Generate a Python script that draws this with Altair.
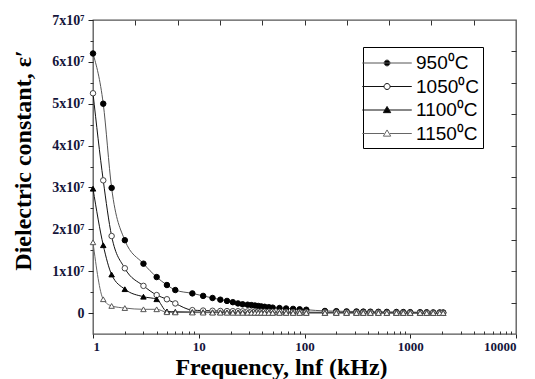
import altair as alt
import pandas as pd

# ---------------- data ----------------
freq_khz = [1, 1.25, 1.5, 2, 3, 4, 5, 6,
            8.7, 11, 13.5, 16, 18.5, 21, 23.5, 26, 29, 31.5, 34, 36.5, 39, 42, 46, 50,
            58, 67, 78, 90, 104,
            156, 200, 250, 310, 360, 420, 500, 600, 740, 860, 1000, 1240, 1430, 1650, 1900, 2050]

# dielectric constant in units of 1e7
eps_950 = [6.2, 5.0, 2.99, 1.74, 1.18, 0.86, 0.67, 0.55,
           0.47, 0.41, 0.36, 0.32, 0.29, 0.26, 0.23, 0.21, 0.2, 0.19, 0.18, 0.17, 0.16, 0.15, 0.14, 0.13,
           0.12, 0.11, 0.1, 0.09, 0.08,
           0.05, 0.045, 0.04, 0.038, 0.035, 0.033, 0.03, 0.028, 0.026, 0.024, 0.022, 0.02, 0.018, 0.016, 0.015, 0.014]
eps_1050 = [5.25, 3.17, 1.84, 1.07, 0.65, 0.43, 0.33, 0.23,
            0.07, 0.06, 0.055, 0.05, 0.047, 0.045, 0.043, 0.04, 0.038, 0.036, 0.035, 0.034, 0.033, 0.032, 0.031, 0.03,
            0.028, 0.026, 0.024, 0.022, 0.02,
            0.018, 0.016, 0.015, 0.014, 0.013, 0.012, 0.011, 0.01, 0.009, 0.008, 0.008, 0.007, 0.007, 0.006, 0.006, 0.005]
eps_1100 = [2.97, 1.62, 0.92, 0.57, 0.39, 0.33, 0.04, 0.03,
            0.025, 0.022, 0.02, 0.019, 0.018, 0.017, 0.016, 0.015, 0.014, 0.013, 0.013, 0.012, 0.012, 0.011, 0.011, 0.01,
            0.01, 0.009, 0.009, 0.008, 0.008,
            0.007, 0.007, 0.006, 0.006, 0.006, 0.005, 0.005, 0.005, 0.004, 0.004, 0.004, 0.004, 0.003, 0.003, 0.003, 0.003]
eps_1150 = [1.69, 0.33, 0.17, 0.12, 0.09, 0.09, 0.02, 0.015,
            0.012, 0.01, 0.009, 0.008, 0.008, 0.007, 0.007, 0.006, 0.006, 0.006, 0.005, 0.005, 0.005, 0.005, 0.004, 0.004,
            0.004, 0.004, 0.003, 0.003, 0.003,
            0.003, 0.003, 0.002, 0.002, 0.002, 0.002, 0.002, 0.002, 0.002, 0.002, 0.002, 0.002, 0.002, 0.002, 0.002, 0.002]

series_names = ["950\u2070C", "1050\u2070C", "1100\u2070C", "1150\u2070C"]
series_values = [eps_950, eps_1050, eps_1100, eps_1150]

x_major = [1, 10, 100, 1000, 10000]
x_minor = [m * d for d in [1, 10, 100, 1000] for m in range(2, 10)]
y_major = [i * 1e7 for i in range(0, 8)]
y_minor = [(i + 0.5) * 1e7 for i in range(0, 7)]
frame_ticks = list(range(1, 10))

rows = []
for name, vals in zip(series_names, series_values):
    for f, v in zip(freq_khz, vals):
        rows.append({"f": f, "eps": v * 1e7, "series": name})
df = pd.DataFrame(rows)
dummy = pd.DataFrame({"t": [0, 10], "f": [1, 10000], "eps": [-5e6, 7e7]})

# ---------------- styles ----------------
SERIF = "Liberation Serif"
LABEL_COLOR = "#14143a"
line_colors = ["#555555", "#111111", "#111111", "#666666"]
pt_shapes = ["circle", "circle", "triangle-up", "triangle-up"]
pt_fills = ["#000000", "#ffffff", "#000000", "#ffffff"]
pt_strokes = ["#000000", "#444444", "#000000", "#555555"]


def legend_path(marker, gap):
    """Line + marker legend glyph (unit coords), shifted right a little."""
    s = 0.7
    def x(v):
        return f"{v + s:.3f}"
    line = f"M{x(-2.15)},0H{x(2.15)}" if gap == 0 else f"M{x(-2.15)},0H{x(-gap)}M{x(gap)},0H{x(2.15)}"
    if marker == "circle":
        r = 0.26
        mk = f"M{x(r)},0A{r},{r},0,1,1,{x(-r)},0A{r},{r},0,1,1,{x(r)},0Z"
    else:
        mk = f"M{x(0)},-0.31L{x(0.32)},0.23L{x(-0.32)},0.23Z"
    return line + mk


leg_shapes = [legend_path("circle", 0), legend_path("circle", 0.26),
              legend_path("tri", 0), legend_path("tri", 0.24)]
leg_strokes = ["#555555", "#111111", "#111111", "#666666"]

xscale = alt.Scale(type="log", domain=[1, 10000], nice=False)
yscale = alt.Scale(domain=[-5e6, 7e7], nice=False, zero=False)

x_enc = alt.X("f:Q", scale=xscale, axis=alt.Axis(
    values=x_major, format="d", grid=False, domain=False,
    tickSize=4, tickColor="#222", labelPadding=2,
    labelFont=SERIF, labelFontWeight="bold", labelFontSize=13, labelColor=LABEL_COLOR,
    title="Frequency, lnf (kHz)", titleFont=SERIF, titleFontWeight="bold", titleFontSize=24,
    titleColor="#000", titleX=188, titleY=40, titleAlign="center", titleBaseline="alphabetic"))
y_enc = alt.Y("eps:Q", scale=yscale, axis=alt.Axis(
    values=y_major, grid=False, domain=False,
    labelExpr="datum.value == 0 ? '0' : format(datum.value / 1e7, 'd') + 'x10\u2077'",
    tickSize=5, tickColor="#222", labelPadding=4,
    labelFont=SERIF, labelFontWeight="bold", labelFontSize=14, labelColor=LABEL_COLOR,
    title="Dielectric constant, \u03b5\u2032", titleFont=SERIF, titleFontWeight="bold", titleFontSize=24,
    titleColor="#000", titleAngle=270, titleX=-63, titleY=140, titleAlign="center",
    titleBaseline="alphabetic"))

lines = alt.Chart(df).mark_line(interpolate="monotone", strokeWidth=1).encode(
    x=x_enc, y=y_enc,
    color=alt.Color("series:N", scale=alt.Scale(domain=series_names, range=line_colors), legend=None),
)
points = alt.Chart(df).mark_point(size=30, strokeWidth=1, opacity=1).encode(
    x=alt.X("f:Q", scale=xscale), y=alt.Y("eps:Q", scale=yscale),
    shape=alt.Shape("series:N", scale=alt.Scale(domain=series_names, range=pt_shapes), legend=None),
    fill=alt.Fill("series:N", scale=alt.Scale(domain=series_names, range=pt_fills), legend=None),
    stroke=alt.Stroke("series:N", scale=alt.Scale(domain=series_names, range=pt_strokes), legend=None),
)
legend_layer = alt.Chart(df).mark_point(opacity=0).encode(
    x=alt.X("f:Q", scale=xscale), y=alt.Y("eps:Q", scale=yscale),
    shape=alt.Shape("series:N", scale=alt.Scale(domain=series_names, range=leg_shapes),
                    legend=alt.Legend(title=None, orient="none", legendX=270, legendY=27,
                                      symbolSize=529, symbolOpacity=1, symbolStrokeWidth=1,
                                      labelFont="Liberation Sans", labelFontSize=19, labelColor="#000",
                                      labelOffset=25, labelLimit=300, rowPadding=1.5,
                                      strokeColor="#000", fillColor="#fff", padding=4)),
    fill=alt.Fill("series:N", scale=alt.Scale(domain=series_names, range=pt_fills)),
    stroke=alt.Stroke("series:N", scale=alt.Scale(domain=series_names, range=leg_strokes)),
)

inner = alt.layer(lines, points, legend_layer).resolve_scale(
    shape="independent", fill="independent", stroke="independent", color="independent")

top_ticks = alt.Chart(dummy).mark_point(opacity=0).encode(
    x=alt.X("t:Q", scale=alt.Scale(domain=[0, 10], nice=False, zero=False),
            axis=alt.Axis(orient="top", values=frame_ticks, labels=False, domain=False, grid=False,
                          tickSize=5, offset=-5, tickColor="#333", title=None)))
right_ticks = alt.Chart(dummy).mark_point(opacity=0).encode(
    y=alt.Y("t:Q", scale=alt.Scale(domain=[0, 10], nice=False, zero=False),
            axis=alt.Axis(orient="right", values=frame_ticks, labels=False, domain=False, grid=False,
                          tickSize=5, offset=-5, tickColor="#333", title=None)))
x_minor_ticks = alt.Chart(dummy).mark_point(opacity=0).encode(
    x=alt.X("f:Q", scale=xscale,
            axis=alt.Axis(orient="bottom", values=x_minor, labels=False, domain=False, grid=False,
                          tickSize=3, offset=-3, tickColor="#333", title=None)))
y_minor_ticks = alt.Chart(dummy).mark_point(opacity=0).encode(
    y=alt.Y("eps:Q", scale=yscale,
            axis=alt.Axis(orient="left", values=y_minor, labels=False, domain=False, grid=False,
                          tickSize=3, tickColor="#333", title=None)))

chart = alt.layer(inner, top_ticks, right_ticks, x_minor_ticks, y_minor_ticks).resolve_scale(
    x="independent", y="independent"
).properties(
    width=423, height=314,
    autosize=alt.AutoSizeParams(type="none"),
    padding={"left": 93, "top": 20, "right": 19, "bottom": 45},
    background="white",
).configure_view(stroke="#555555", strokeWidth=1.3)

chart.save("out.html", embed_options={"renderer": "svg", "actions": False})
